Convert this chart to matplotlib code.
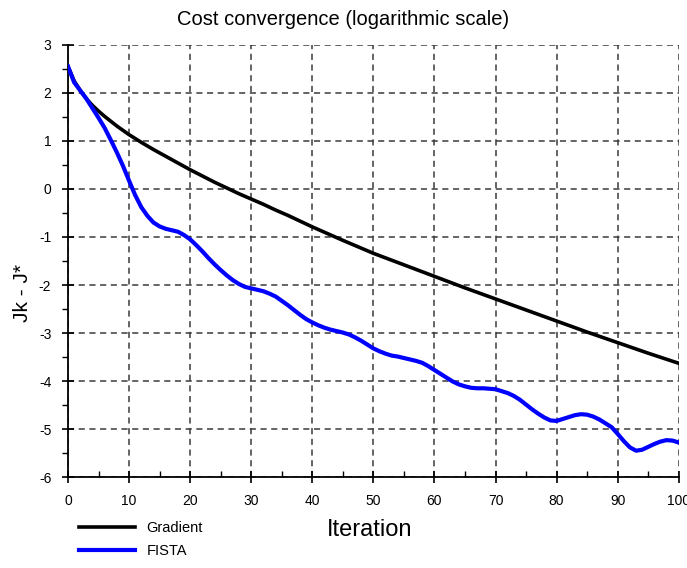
import numpy as np
import matplotlib
matplotlib.use("Agg")
import matplotlib.pyplot as plt
from matplotlib.ticker import MultipleLocator

plt.rcParams["font.family"] = ["Liberation Sans", "DejaVu Sans"]
plt.rcParams["axes.unicode_minus"] = False

# Gradient descent cost (log scale)
grad_x = [0, 1, 2, 3, 4, 5, 6, 7, 8, 9, 10, 12, 14, 16, 18, 20, 22, 24, 26, 28,
          30, 32, 34, 36, 38, 40, 45, 50, 55, 60, 65, 70, 75, 80, 85, 90, 95, 100]
grad_y = [2.55, 2.25, 2.05, 1.88, 1.74, 1.62, 1.51, 1.41, 1.31, 1.22, 1.13, 0.97,
          0.82, 0.68, 0.54, 0.40, 0.27, 0.14, 0.02, -0.10, -0.21, -0.32, -0.44,
          -0.55, -0.67, -0.79, -1.07, -1.34, -1.58, -1.82, -2.06, -2.29, -2.52,
          -2.75, -2.98, -3.20, -3.42, -3.63]

# FISTA cost (log scale), one reading per iteration
fista_x = list(range(0, 101))
fista_y = [2.55, 2.22, 2.05, 1.88, 1.68, 1.48, 1.27, 1.02, 0.76, 0.48,
           0.17, -0.13, -0.38, -0.56, -0.70, -0.78, -0.83, -0.86, -0.89, -0.96,
           -1.05, -1.17, -1.30, -1.44, -1.57, -1.69, -1.80, -1.90, -1.98, -2.04,
           -2.07, -2.10, -2.13, -2.18, -2.24, -2.33, -2.42, -2.52, -2.62, -2.71,
           -2.78, -2.84, -2.89, -2.93, -2.96, -2.99, -3.03, -3.09, -3.16, -3.24,
           -3.32, -3.38, -3.43, -3.47, -3.49, -3.52, -3.55, -3.58, -3.62, -3.69,
           -3.77, -3.85, -3.93, -4.01, -4.07, -4.11, -4.14, -4.15, -4.15, -4.16,
           -4.17, -4.21, -4.25, -4.31, -4.39, -4.49, -4.59, -4.68, -4.76, -4.82,
           -4.83, -4.79, -4.75, -4.71, -4.69, -4.70, -4.74, -4.80, -4.88, -4.96,
           -5.10, -5.25, -5.38, -5.45, -5.43, -5.37, -5.31, -5.26, -5.23, -5.24,
           -5.28]

fig = plt.figure(figsize=(6.87, 5.68), dpi=100)
ax = fig.add_axes([0.099, 0.160, 0.889, 0.761])

ax.plot(grad_x, grad_y, color="black", linewidth=2.6, label="Gradient", zorder=3)
ax.plot(fista_x, fista_y, color="#0000ff", linewidth=3.0, label="FISTA", zorder=4)

ax.set_xlim(0, 100)
ax.set_ylim(-6, 3)
ax.xaxis.set_major_locator(MultipleLocator(10))
ax.xaxis.set_minor_locator(MultipleLocator(5))
ax.yaxis.set_major_locator(MultipleLocator(1))
ax.yaxis.set_minor_locator(MultipleLocator(0.5))

ax.spines["top"].set_visible(False)
ax.spines["right"].set_visible(False)
ax.spines["left"].set_linewidth(1.3)
ax.spines["bottom"].set_linewidth(1.3)

ax.grid(True, which="major", linestyle=(0, (4, 3)), color="#3a3a3a", linewidth=1.1)
ax.tick_params(which="major", direction="inout", length=8, width=1.2, labelsize=10)
ax.tick_params(axis="x", which="major", pad=8)
ax.tick_params(axis="y", which="major", pad=8)
ax.tick_params(axis="x", which="minor", direction="in", length=4, width=1.0)
ax.tick_params(axis="y", which="minor", direction="out", length=4, width=1.0)

fig.text(0.5, 0.965, "Cost convergence (logarithmic scale)", ha="center", va="center",
         fontsize=14.5)
fig.text(0.033, 0.485, "Jk - J*", ha="center", va="center", rotation=90, fontsize=15)
fig.text(0.538, 0.067, "Iteration", ha="center", va="center", fontsize=17)

fig.legend(loc="upper left", bbox_to_anchor=(0.107, 0.093), frameon=False,
           handlelength=3.8, handletextpad=0.8, labelspacing=0.6, fontsize=10.5,
           borderaxespad=0)

fig.savefig("out.png", dpi=100)
